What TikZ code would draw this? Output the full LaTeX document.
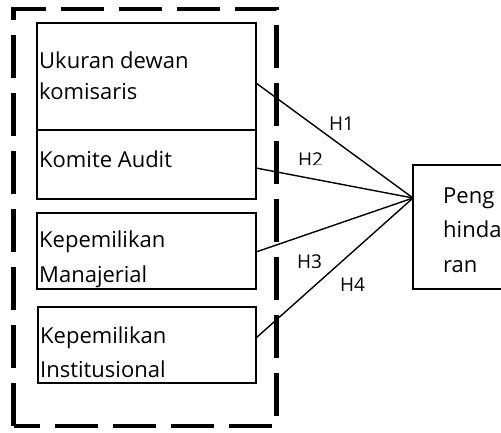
\documentclass[tikz,border=0pt]{standalone}
\usepackage{fontspec}
\setmainfont{Open Sans}
\begin{document}
\begin{tikzpicture}[x=1pt,y=-1pt,
  box/.style={draw=black,line width=1.3pt,minimum width=219pt,inner sep=0pt,outer sep=0pt},
  txt/.style={anchor=base west,inner sep=0pt,font=\fontsize{22}{31}\selectfont},
  hlab/.style={anchor=base west,inner sep=0pt,font=\fontsize{19}{24}\selectfont},
  link/.style={draw=black,line width=1.4pt},
  group/.style={draw=black,line width=4.2pt,dash pattern=on 43pt off 15pt}]
\useasboundingbox (0,0) rectangle (501,432);
\clip (0,0) rectangle (501,432);
% dashed group border
\draw[group] (13.5,426) -- (13.5,9) -- (276.5,9) -- (276.5,426) -- cycle;
% boxes
\node[box,minimum height=107pt] (b1) at (146.5,76.5) {};
\node[box,minimum height=69pt] (b2) at (146.5,164.5) {};
\node[box,minimum height=76pt] (b3) at (146.5,251) {};
\node[box,minimum height=76pt,minimum width=218pt] (b4) at (147,345) {};
\node[draw=black,line width=1.3pt,minimum width=110pt,minimum height=124pt,inner sep=0pt,outer sep=0pt] (y) at (468,227) {};
% texts
\node[txt] (t1a) at (39,68) {Ukuran dewan};
\node[txt] (t1b) at (39,99) {komisaris};
\node[txt] (t2) at (39,167) {Komite Audit};
\node[txt] (t3a) at (39,247) {Kepemilikan};
\node[txt] (t3b) at (39,282) {Manajerial};
\node[txt] (t4a) at (40,343) {Kepemilikan};
\node[txt] (t4b) at (40,377) {Institusional};
\node[txt] (ya) at (443,203) {Peng};
\node[txt] (yb) at (443,237) {hinda};
\node[txt] (yc) at (443,272) {ran};
% connectors
\coordinate (p) at ([yshift=29pt]y.west);
\draw[link] ([yshift=-6.5pt]b1.east) -- (p);
\draw[link] ([yshift=-3.5pt]b2.east) -- (p);
\draw[link] ([yshift=-1pt]b3.east) -- (p);
\draw[link] ([yshift=7pt]b4.east) -- (p);
% labels
\node[hlab] (h1) at (329,130.7) {H1};
\begin{scope}
  \clip (290,140) rectangle (335,164.5);
  \node[hlab] (h2) at (298,166) {H2};
\end{scope}
\begin{scope}
  \clip (290,245) rectangle (335,267.5);
  \node[hlab] (h3) at (297,268.8) {H3};
\end{scope}
\node[hlab] (h4) at (340,291.7) {H4};
\end{tikzpicture}
\end{document}
